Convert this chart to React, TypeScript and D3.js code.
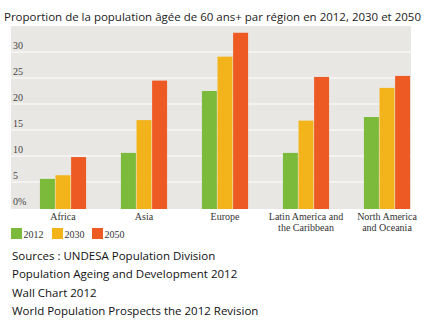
import React from "react";
import * as d3 from "d3";

const categories: string[][] = [
  ["Africa"],
  ["Asia"],
  ["Europe"],
  ["Latin America and", "the Caribbean"],
  ["North America", "and Oceania"],
];
const years = ["2012", "2030", "2050"];
const values2012 = [5.6, 10.6, 22.5, 10.6, 17.5];
const values2030 = [6.3, 16.9, 29.1, 16.8, 23.1];
const values2050 = [9.8, 24.5, 33.7, 25.2, 25.4];
const yTicks = [0, 5, 10, 15, 20, 25, 30];
const colors = ["#7cba3c", "#f2b41a", "#ee5a24"];
const title = "Proportion de la population âgée de 60 ans+ par région en 2012, 2030 et 2050";
const sources = [
  "Sources : UNDESA Population Division",
  "Population Ageing and Development 2012",
  "Wall Chart 2012",
  "World Population Prospects the  2012 Revision",
];

export default function App() {
  const W = 427, H = 329;
  const series = [values2012, values2030, values2050];
  const panel = { x: 11, y: 26, w: 400, h: 183 };
  const y = d3.scaleLinear().domain([0, 30]).range([208, 52]);
  const x0 = d3.scaleBand<number>()
    .domain(categories.map((_, i) => i))
    .range([22.5, 427.5])
    .paddingInner(0.43)
    .paddingOuter(0.215);
  const x1 = d3.scaleBand<number>()
    .domain(years.map((_, i) => i))
    .range([0, x0.bandwidth()])
    .paddingInner(0.04);
  const serif = "'Liberation Serif', 'DejaVu Serif', serif";
  const sans = "'Open Sans', 'Noto Sans', sans-serif";
  return (
    <svg width={W} height={H} style={{ position: "absolute", left: 0, top: 0, background: "#fff" }}>
      <text x={4} y={21} fontFamily={sans} fontSize={11.5} fill="#222" textLength={417} lengthAdjust="spacingAndGlyphs">{title}</text>
      <rect x={panel.x} y={panel.y} width={panel.w} height={panel.h} fill="#e9e7e3" />
      {yTicks.filter(t => t > 0).map(t => (
        <line key={t} x1={panel.x} x2={panel.x + panel.w} y1={y(t)} y2={y(t)} stroke="#fff" strokeWidth={1.2} />
      ))}
      {yTicks.map(t => (
        <text key={"l" + t} x={13} y={y(t) - 3} fontFamily={serif} fontSize={10} fill="#444">{t === 0 ? "0%" : t}</text>
      ))}
      {categories.map((c, i) => (
        <g key={i} transform={`translate(${x0(i)},0)`}>
          {series.map((s, j) => (
            <rect key={j} x={x1(j)} y={y(s[i])} width={x1.bandwidth()} height={y(0) - y(s[i]) + 1} fill={colors[j]} />
          ))}
          {c.map((line, k) => (
            <text key={k} x={x0.bandwidth() / 2} y={220 + k * 11} textAnchor="middle" fontFamily={serif} fontSize={10} fill="#333">{line}</text>
          ))}
        </g>
      ))}
      {years.map((yr, j) => {
        const lx = [11, 52, 92][j];
        return (
          <g key={yr}>
            <rect x={lx} y={228} width={11} height={11} fill={colors[j]} />
            <text x={lx + 12.5} y={237.5} fontFamily={serif} fontSize={10} fill="#333">{yr}</text>
          </g>
        );
      })}
      {sources.map((s, i) => (
        <text key={i} x={12} y={260 + i * 18.3} fontFamily={sans} fontSize={11.5} fill="#111">{s}</text>
      ))}
    </svg>
  );
}
